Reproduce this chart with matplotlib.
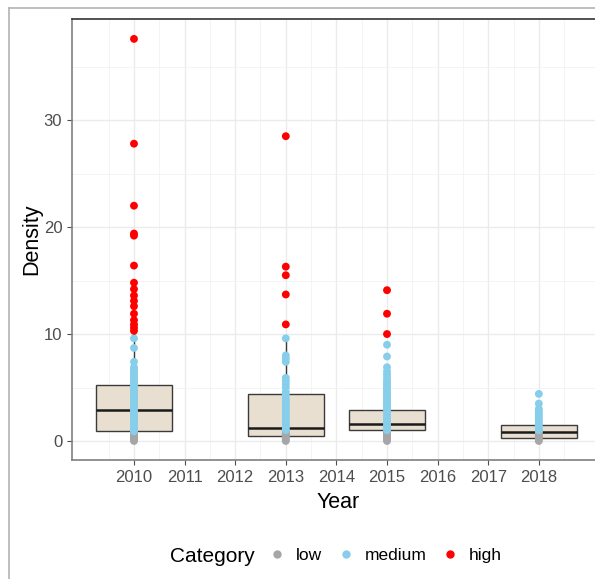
import matplotlib
matplotlib.use("Agg")
import matplotlib.pyplot as plt
from matplotlib.lines import Line2D

plt.rcParams["font.family"] = ["Liberation Sans", "DejaVu Sans"]

# data
years = [2010, 2013, 2015, 2018]

# box stats per year (q1, median, q3, whisker low, whisker high)
q1 = [0.9, 0.5, 1.0, 0.3]
med = [2.9, 1.2, 1.6, 0.8]
q3 = [5.2, 4.4, 2.9, 1.5]
whislo = [0.0, 0.0, 0.0, 0.0]
whishi = [11.3, 9.6, 5.6, 2.8]

low_2010 = [0.0, 0.1, 0.2, 0.3, 0.4, 0.5, 0.6, 0.7, 0.8]
med_2010 = [0.9, 1.1, 1.3, 1.5, 1.7, 1.9, 2.1, 2.3, 2.5, 2.7, 2.9, 3.1, 3.3, 3.5,
            3.7, 3.9, 4.1, 4.3, 4.5, 4.7, 4.9, 5.1, 5.3, 5.5, 5.7, 5.9, 6.1, 6.3,
            6.5, 6.7, 6.9, 7.4, 8.7, 9.6]
high_2010 = [10.3, 10.6, 10.9, 11.3, 11.9, 12.6, 13.1, 13.6, 14.2, 14.8, 16.4,
             19.2, 19.4, 22.0, 27.8, 37.6]

low_2013 = [0.0, 0.15, 0.3, 0.45, 0.6, 0.75, 0.9]
med_2013 = [1.0, 1.2, 1.4, 1.6, 1.8, 2.0, 2.2, 2.4, 2.6, 2.8, 3.0, 3.2, 3.4, 3.6,
            3.8, 4.0, 4.3, 4.6, 5.0, 5.3, 5.6, 5.9, 7.4, 7.7, 8.0, 9.6]
high_2013 = [10.9, 13.7, 15.5, 16.3, 28.5]

low_2015 = [0.0, 0.15, 0.3, 0.45, 0.6, 0.75, 0.9]
med_2015 = [1.0, 1.2, 1.4, 1.6, 1.8, 2.0, 2.2, 2.4, 2.6, 2.8, 3.0, 3.2, 3.4, 3.6,
            3.8, 4.0, 4.2, 4.4, 4.6, 4.8, 5.0, 5.2, 5.4, 5.6, 5.9, 6.2, 6.5, 6.9,
            7.9, 9.0]
high_2015 = [10.0, 11.9, 14.1]

low_2018 = [0.0, 0.15, 0.3, 0.45, 0.6, 0.75, 0.9]
med_2018 = [1.0, 1.2, 1.4, 1.6, 1.8, 2.0, 2.2, 2.4, 2.6, 2.8, 3.0, 3.5, 4.4]
high_2018 = []

low_pts = [low_2010, low_2013, low_2015, low_2018]
med_pts = [med_2010, med_2013, med_2015, med_2018]
high_pts = [high_2010, high_2013, high_2015, high_2018]

categories = ["low", "medium", "high"]
cat_colors = ["#a6a6a6", "#87ceeb", "#ff0000"]

xticks = list(range(2010, 2019))
yticks = [0, 10, 20, 30]

fig = plt.figure(figsize=(5.95, 5.79), dpi=100)
ax = fig.add_axes([0.121, 0.2055, 0.896, 0.7615])

# outer grey frame (cropped screenshot edge)
fig.add_artist(Line2D([9/595, 9/595], [0, 1 - 8/579], color="#b3b3b3", lw=1.2, transform=fig.transFigure))
fig.add_artist(Line2D([9/595, 1], [1 - 8/579, 1 - 8/579], color="#b3b3b3", lw=1.2, transform=fig.transFigure))

stats = []
for i in range(len(years)):
    stats.append(dict(q1=q1[i], med=med[i], q3=q3[i], whislo=whislo[i], whishi=whishi[i], fliers=[]))
ax.bxp(stats, positions=years, widths=1.5, showfliers=False, patch_artist=True,
       manage_ticks=False,
       boxprops=dict(facecolor="#e9dfd0", edgecolor="#3a3a3a", linewidth=1.0),
       medianprops=dict(color="#1a1a1a", linewidth=1.8),
       whiskerprops=dict(color="#3a3a3a", linewidth=1.0),
       capprops=dict(linewidth=0), zorder=2)

for groups, c in zip([low_pts, med_pts, high_pts], cat_colors):
    for yr, vals in zip(years, groups):
        ax.scatter([yr] * len(vals), vals, s=32, color=c, edgecolors="none", zorder=3)

ax.set_xticks(xticks)
ax.set_xticklabels([str(x) for x in xticks])
ax.set_yticks(yticks)
ax.set_xticks([x + 0.5 for x in range(2008, 2019)], minor=True)
ax.set_yticks([5, 15, 25, 35], minor=True)
ax.set_xlim(2008.775, 2019.31)
ax.set_ylim(-1.78, 39.45)
ax.grid(which="major", color="#ebebeb", lw=1.0, zorder=0)
ax.grid(which="minor", color="#f2f2f2", lw=0.6, zorder=0)
ax.set_axisbelow(True)
ax.tick_params(which="minor", length=0)
ax.tick_params(which="major", length=3.5, color="#4d4d4d", labelsize=12, labelcolor="#4d4d4d")

for s in ["left", "bottom"]:
    ax.spines[s].set_color("#7f7f7f")
    ax.spines[s].set_linewidth(1.2)
ax.spines["top"].set_color("#333333")
ax.spines["top"].set_linewidth(1.2)
ax.spines["right"].set_visible(False)

ax.set_xlabel("Year", fontsize=15.5, labelpad=5)
ax.set_ylabel("Density", fontsize=15.5, labelpad=1)

fig.text(170/595, 1 - 556/579, "Category", fontsize=15, va="center", ha="left")
handles = [Line2D([], [], marker="o", ls="", color=c, markersize=5) for c in cat_colors]
fig.legend(handles, categories, ncol=3, frameon=False, fontsize=12.5,
           loc="center left", bbox_to_anchor=(251/595, 1 - 555/579),
           handletextpad=0.5, columnspacing=0.75, handlelength=1.2)

fig.savefig("out.png", dpi=100)
